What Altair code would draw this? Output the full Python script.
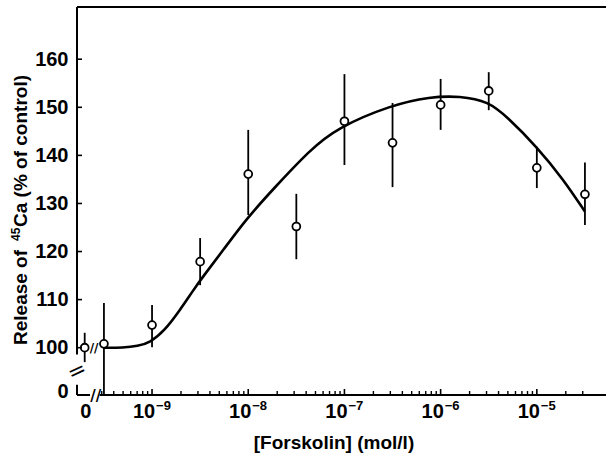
import math
import altair as alt
import pandas as pd

# ---------------- data ----------------
# x = log10 of forskolin concentration (mol/l); first entry is the "0" (control) point
conc_log = [-9.70, -9.5, -9.0, -8.5, -8.0, -7.5, -7.0, -6.5, -6.0, -5.5, -5.0, -4.5]
release = [100.0, 100.8, 104.7, 117.9, 136.1, 125.2, 147.1, 142.6, 150.5, 153.4, 137.4, 131.9]
err_low = [97.0, 90.2, 100.1, 113.0, 127.6, 118.4, 138.0, 133.4, 145.3, 149.4, 133.2, 125.5]
err_high = [103.1, 109.3, 108.9, 122.8, 145.3, 132.0, 156.9, 150.9, 155.9, 157.3, 141.8, 138.5]

# fitted curve
fit_log = [-9.5, -9.3, -9.15, -9.02, -8.88, -8.71, -8.57, -8.47, -8.26, -8.02, -7.74,
           -7.36, -7.08, -6.51, -6.11, -5.80, -5.50, -5.31, -5.00, -4.72, -4.50]
fit_val = [100.0, 100.0, 100.3, 101.1, 103.3, 107.8, 112.0, 114.8, 120.3, 126.8, 133.0,
           141.1, 145.7, 150.5, 152.2, 152.35, 151.2, 148.0, 141.8, 134.9, 128.3]

# axis ticks / labels
x_zero_at = [-9.70]
x_zero_text = ["0"]
x_decades = [-9, -8, -7, -6, -5]
x_base_text = ["10", "10", "10", "10", "10"]
x_exp_text = ["−9", "−8", "−7", "−6", "−5"]
y_tick_vals = [90.9, 100, 110, 120, 130, 140, 150, 160]
y_tick_text = ["0", "100", "110", "120", "130", "140", "150", "160"]
x_minor_ticks = [n + math.log10(k) for n in range(-10, -4) for k in range(2, 10)
                 if -9.53 <= n + math.log10(k) <= -4.47]
y_inner_ticks = [100, 110, 120, 130, 140, 150, 160]

# y-axis title pieces
y_title_parts = ["Release of", "45", "Ca (% of control)"]

# broken-axis pieces
y_seg_from = [170.86, 92.3]
y_seg_to = [98.6, 90.16]
x_seg_from = [-9.78, -9.545]
x_seg_to = [-9.645, -4.281]
y_break_at = [95.15]
x_break_at = [-9.585]
pt_break_x = [-9.603]
pt_break_y = [100.0]

X_DOMAIN = [-9.78, -4.281]
Y_DOMAIN = [90.16, 170.86]
W, H = 529, 388
FONT = "Liberation Sans"

xs = alt.Scale(domain=X_DOMAIN, nice=False, zero=False)
ys = alt.Scale(domain=Y_DOMAIN, nice=False, zero=False)

pts = pd.DataFrame({"x": conc_log, "y": release, "lo": err_low, "hi": err_high})
fit = pd.DataFrame({"x": fit_log, "y": fit_val})

y_label_expr = "{}[indexof({}, datum.value)]".format(
    "[" + ",".join("'%s'" % t for t in y_tick_text) + "]",
    "[" + ",".join(str(v) for v in y_tick_vals) + "]")

x_axis = alt.Axis(values=x_decades, labels=False, title="[Forskolin] (mol/l)",
                  titleFontSize=19, titleX=256.5, titleY=53, titleBaseline="alphabetic",
                  titleAnchor="start", titleAlign="center")
y_axis = alt.Axis(values=y_tick_vals, labelExpr=y_label_expr, title="",
                  labelFontSize=20, labelPadding=9, labelFlush=False, labelOverlap=False)

errbars = alt.Chart(pts).mark_rule(color="black", strokeWidth=1.8).encode(
    x=alt.X("x:Q", scale=xs, axis=x_axis),
    y=alt.Y("lo:Q", scale=ys, axis=y_axis),
    y2="hi:Q",
)

curve = alt.Chart(fit).mark_line(color="black", strokeWidth=2.6, interpolate="basis").encode(
    x=alt.X("x:Q", scale=xs), y=alt.Y("y:Q", scale=ys))

points = alt.Chart(pts).mark_point(shape="circle", filled=True, fill="white", stroke="black",
                                   strokeWidth=1.8, size=62, opacity=1).encode(
    x=alt.X("x:Q", scale=xs), y=alt.Y("y:Q", scale=ys))

# x tick labels drawn as text: "0", "10" and the exponents
zero_lbl = alt.Chart(pd.DataFrame({"v": x_zero_at, "t": x_zero_text})).mark_text(
    font=FONT, fontSize=20, fontWeight="bold", color="black", baseline="alphabetic",
    align="center", dx=1).encode(
    x=alt.X("v:Q", scale=xs), y=alt.value(H + 23), text="t:N")
base_lbl = alt.Chart(pd.DataFrame({"v": x_decades, "t": x_base_text})).mark_text(
    font=FONT, fontSize=20, fontWeight="bold", color="black", baseline="alphabetic",
    align="center", dx=-8).encode(
    x=alt.X("v:Q", scale=xs), y=alt.value(H + 23), text="t:N")
exp_lbl = alt.Chart(pd.DataFrame({"v": x_decades, "t": x_exp_text})).mark_text(
    font=FONT, fontSize=13, fontWeight="bold", color="black", baseline="alphabetic",
    align="left", dx=4).encode(
    x=alt.X("v:Q", scale=xs), y=alt.value(H + 15), text="t:N")

# y-axis title with a real superscript (rotated text pieces)
def ytitle_piece(txt, size, x_px, y_px):
    return alt.Chart(pd.DataFrame({"t": [txt]})).mark_text(
        font=FONT, fontSize=size, fontWeight="bold", color="black", angle=270,
        align="left", baseline="alphabetic").encode(
        x=alt.value(x_px), y=alt.value(y_px), text="t:N")

yt1 = ytitle_piece(y_title_parts[0], 19, -50, 338)
yt2 = ytitle_piece(y_title_parts[1], 12, -57, 234)
yt3 = ytitle_piece(y_title_parts[2], 19, -50, 220)

# frame / axis lines
top_line = alt.Chart(pd.DataFrame({"k": [0]})).mark_rule(color="black", strokeWidth=2).encode(
    x=alt.value(0), x2=alt.value(W), y=alt.value(0))

yseg = pd.DataFrame({"y1": y_seg_from, "y2": y_seg_to})
left_line = alt.Chart(yseg).mark_rule(color="black", strokeWidth=2).encode(
    x=alt.value(0), y=alt.Y("y1:Q", scale=ys), y2="y2:Q")

xseg = pd.DataFrame({"x1": x_seg_from, "x2": x_seg_to})
bottom_line = alt.Chart(xseg).mark_rule(color="black", strokeWidth=2).encode(
    y=alt.value(H), x=alt.X("x1:Q", scale=xs), x2="x2:Q")

maj = alt.Chart(pd.DataFrame({"v": x_decades})).mark_rule(color="black", strokeWidth=1.6).encode(
    x=alt.X("v:Q", scale=xs), y=alt.value(H), y2=alt.value(H - 6))
mnr = alt.Chart(pd.DataFrame({"v": x_minor_ticks})).mark_rule(color="black", strokeWidth=1.4).encode(
    x=alt.X("v:Q", scale=xs), y=alt.value(H), y2=alt.value(H - 4))
yt = alt.Chart(pd.DataFrame({"v": y_inner_ticks})).mark_rule(color="black", strokeWidth=1.6).encode(
    y=alt.Y("v:Q", scale=ys), x=alt.value(0), x2=alt.value(5))

ybreak = alt.Chart(pd.DataFrame({"v": y_break_at})).mark_text(
    text="=", angle=335, fontSize=22, font="DejaVu Sans", color="black").encode(
    x=alt.value(0), y=alt.Y("v:Q", scale=ys))
xbreak = alt.Chart(pd.DataFrame({"v": x_break_at})).mark_text(
    text="//", fontSize=15, fontWeight="bold", font="DejaVu Sans", color="black").encode(
    x=alt.X("v:Q", scale=xs), y=alt.value(H + 1))
pbreak = alt.Chart(pd.DataFrame({"x": pt_break_x, "y": pt_break_y})).mark_text(
    text="//", fontSize=12, fontWeight="bold", font="DejaVu Sans", color="black").encode(
    x=alt.X("x:Q", scale=xs), y=alt.Y("y:Q", scale=ys))

chart = alt.layer(
    errbars, curve, points, top_line, left_line, bottom_line, maj, mnr, yt, ybreak, xbreak,
    pbreak, zero_lbl, base_lbl, exp_lbl, yt1, yt2, yt3
).properties(
    width=W, height=H,
    autosize=alt.AutoSizeParams(type="none"),
    padding={"left": 77, "top": 7, "right": 0, "bottom": 59},
).configure_view(stroke=None).configure_axis(
    grid=False, domain=False, ticks=False, tickSize=0,
    labelFont=FONT, titleFont=FONT, labelFontWeight="bold", titleFontWeight="bold",
    labelColor="black", titleColor="black",
)

chart.save("out.html", embed_options={"renderer": "svg", "actions": False})
